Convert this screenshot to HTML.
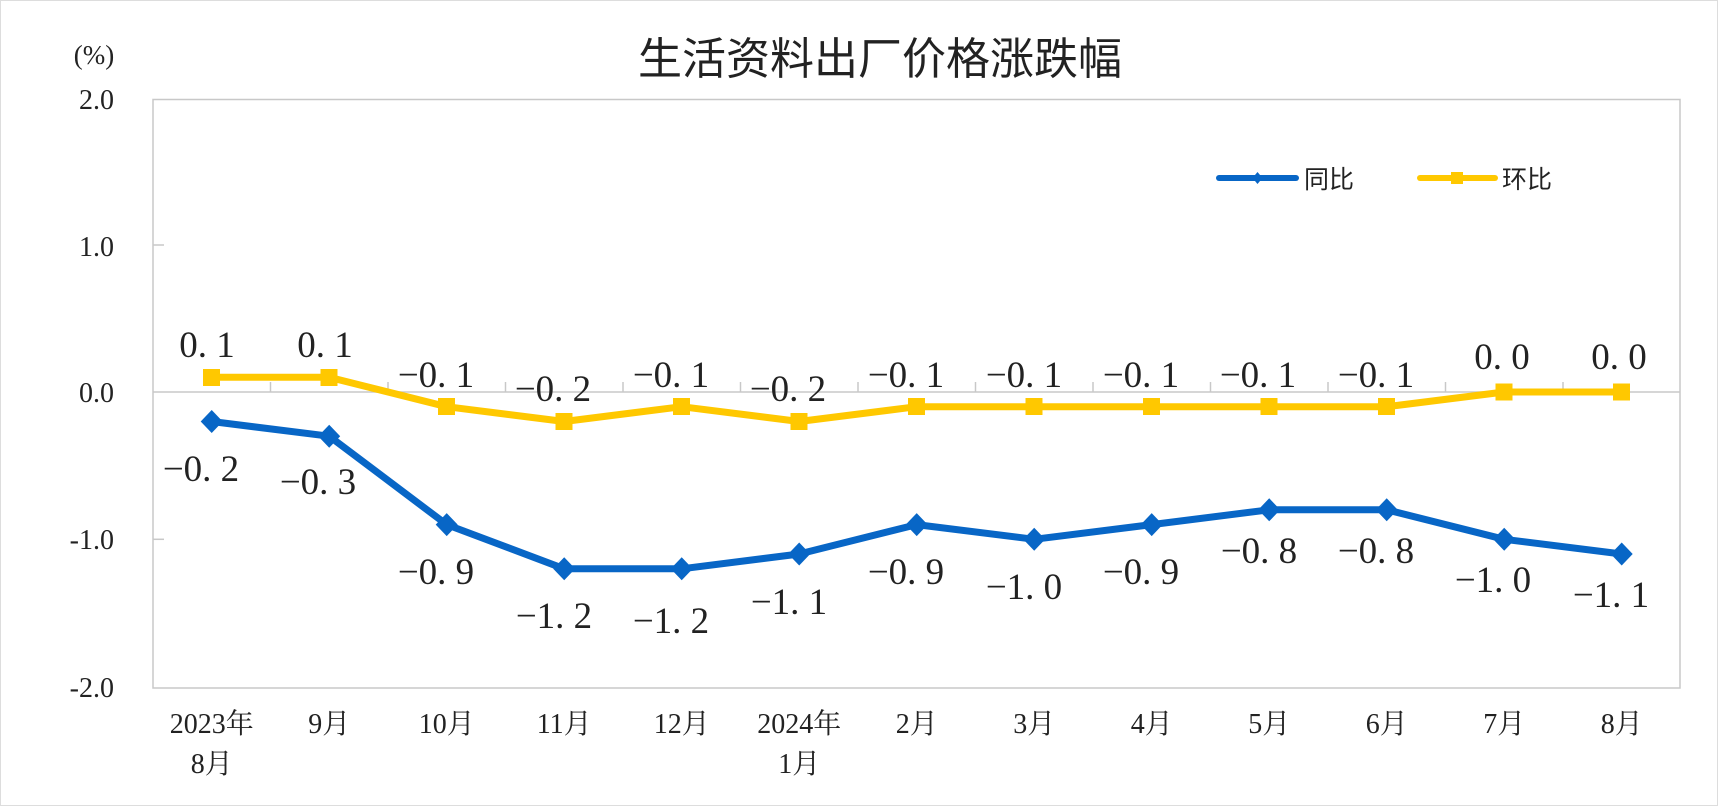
<!DOCTYPE html>
<html><head><meta charset="utf-8"><style>
body{margin:0;background:#fff}
svg{display:block}
.s{font-family:"Liberation Serif","Noto Serif CJK SC",serif;fill:#222}
.c{font-family:"Liberation Sans","Noto Sans CJK SC",sans-serif;fill:#222}
</style></head><body>
<svg width="1718" height="806" viewBox="0 0 1718 806">
<rect x="0.5" y="0.5" width="1717" height="805" fill="#fff" stroke="#ddd"/>
<text x="880" y="74" text-anchor="middle" class="c" font-size="44">生活资料出厂价格涨跌幅</text>
<text x="94" y="64" text-anchor="middle" class="s" font-size="27">(%)</text>
<rect x="153" y="99.5" width="1527" height="588.5" fill="none" stroke="#c8c8c8" stroke-width="1.5"/>
<line x1="153" y1="392" x2="1680" y2="392" stroke="#c8c8c8" stroke-width="1.5"/>
<g stroke="#c8c8c8" stroke-width="1.5">
<line x1="153" y1="245" x2="164" y2="245"/><line x1="153" y1="539.3" x2="164" y2="539.3"/>
<line x1="270.5" y1="392" x2="270.5" y2="382"/><line x1="388" y1="392" x2="388" y2="382"/><line x1="505.5" y1="392" x2="505.5" y2="382"/><line x1="623" y1="392" x2="623" y2="382"/><line x1="740.5" y1="392" x2="740.5" y2="382"/><line x1="858" y1="392" x2="858" y2="382"/><line x1="975.5" y1="392" x2="975.5" y2="382"/><line x1="1093" y1="392" x2="1093" y2="382"/><line x1="1210.5" y1="392" x2="1210.5" y2="382"/><line x1="1328" y1="392" x2="1328" y2="382"/><line x1="1445.5" y1="392" x2="1445.5" y2="382"/><line x1="1563" y1="392" x2="1563" y2="382"/>
</g>
<g class="s" font-size="28" text-anchor="end">
<text x="114" y="109">2.0</text><text x="114" y="256">1.0</text><text x="114" y="402">0.0</text><text x="114" y="549">-1.0</text><text x="114" y="697">-2.0</text>
</g>
<polyline fill="none" stroke="#FFC800" stroke-width="7" stroke-linejoin="round" points="211.7,377.3 329.2,377.3 446.7,406.7 564.2,421.5 681.7,406.7 799.2,421.5 916.7,406.7 1034.2,406.7 1151.7,406.7 1269.2,406.7 1386.7,406.7 1504.2,392 1621.7,392"/>
<g fill="#FFC800">
<rect x="203" y="369" width="17" height="17"/><rect x="320.5" y="369" width="17" height="17"/><rect x="438" y="398" width="17" height="17"/><rect x="555.5" y="413" width="17" height="17"/><rect x="673" y="398" width="17" height="17"/><rect x="790.5" y="413" width="17" height="17"/><rect x="908" y="398" width="17" height="17"/><rect x="1025.5" y="398" width="17" height="17"/><rect x="1143" y="398" width="17" height="17"/><rect x="1260.5" y="398" width="17" height="17"/><rect x="1378" y="398" width="17" height="17"/><rect x="1495.5" y="383.5" width="17" height="17"/><rect x="1613" y="383.5" width="17" height="17"/>
</g>
<polyline fill="none" stroke="#0866C6" stroke-width="7" stroke-linejoin="round" points="211.7,421.5 329.2,436.2 446.7,524.6 564.2,568.8 681.7,568.8 799.2,554 916.7,524.6 1034.2,539.3 1151.7,524.6 1269.2,509.8 1386.7,509.8 1504.2,539.3 1621.7,554"/>
<g fill="#0866C6">
<path d="M211.7,410l11,11.5l-11,11.5l-11,-11.5z"/><path d="M329.2,424.7l11,11.5l-11,11.5l-11,-11.5z"/><path d="M446.7,513.1l11,11.5l-11,11.5l-11,-11.5z"/><path d="M564.2,557.3l11,11.5l-11,11.5l-11,-11.5z"/><path d="M681.7,557.3l11,11.5l-11,11.5l-11,-11.5z"/><path d="M799.2,542.5l11,11.5l-11,11.5l-11,-11.5z"/><path d="M916.7,513.1l11,11.5l-11,11.5l-11,-11.5z"/><path d="M1034.2,527.8l11,11.5l-11,11.5l-11,-11.5z"/><path d="M1151.7,513.1l11,11.5l-11,11.5l-11,-11.5z"/><path d="M1269.2,498.3l11,11.5l-11,11.5l-11,-11.5z"/><path d="M1386.7,498.3l11,11.5l-11,11.5l-11,-11.5z"/><path d="M1504.2,527.8l11,11.5l-11,11.5l-11,-11.5z"/><path d="M1621.7,542.5l11,11.5l-11,11.5l-11,-11.5z"/>
</g>
<g class="s" font-size="37" text-anchor="middle">
<text x="207" y="357">0. 1</text><text x="325" y="357">0. 1</text><text x="436" y="387">−0. 1</text><text x="553" y="401">−0. 2</text><text x="671" y="387">−0. 1</text><text x="788" y="401">−0. 2</text><text x="906" y="387">−0. 1</text><text x="1024" y="387">−0. 1</text><text x="1141" y="387">−0. 1</text><text x="1258" y="387">−0. 1</text><text x="1376" y="387">−0. 1</text><text x="1502" y="369">0. 0</text><text x="1619" y="369">0. 0</text>
</g>
<g class="s" font-size="37" text-anchor="middle">
<text x="201" y="481">−0. 2</text><text x="318" y="494">−0. 3</text><text x="436" y="584">−0. 9</text><text x="554" y="628">−1. 2</text><text x="671" y="633">−1. 2</text><text x="789" y="614">−1. 1</text><text x="906" y="584">−0. 9</text><text x="1024" y="599">−1. 0</text><text x="1141" y="584">−0. 9</text><text x="1259" y="563">−0. 8</text><text x="1376" y="563">−0. 8</text><text x="1493" y="592">−1. 0</text><text x="1611" y="607">−1. 1</text>
</g>
<g class="s" font-size="28" text-anchor="middle">
<text x="211.7" y="733">2023年</text><text x="211.7" y="773">8月</text>
<text x="329.2" y="733">9月</text><text x="446.7" y="733">10月</text><text x="564.2" y="733">11月</text><text x="681.7" y="733">12月</text>
<text x="799.2" y="733">2024年</text><text x="799.2" y="773">1月</text>
<text x="916.7" y="733">2月</text><text x="1034.2" y="733">3月</text><text x="1151.7" y="733">4月</text><text x="1269.2" y="733">5月</text><text x="1386.7" y="733">6月</text><text x="1504.2" y="733">7月</text><text x="1621.7" y="733">8月</text>
</g>
<line x1="1219" y1="178" x2="1296" y2="178" stroke="#0866C6" stroke-width="6" stroke-linecap="round"/>
<path d="M1257.5,172l5,6l-5,6l-5,-6z" fill="#0866C6"/>
<text x="1304" y="188" class="c" font-size="25">同比</text>
<line x1="1420" y1="178" x2="1495" y2="178" stroke="#FFC800" stroke-width="6" stroke-linecap="round"/>
<rect x="1451" y="172" width="12" height="12" fill="#FFC800"/>
<text x="1502" y="188" class="c" font-size="25">环比</text>
</svg>
</body></html>
